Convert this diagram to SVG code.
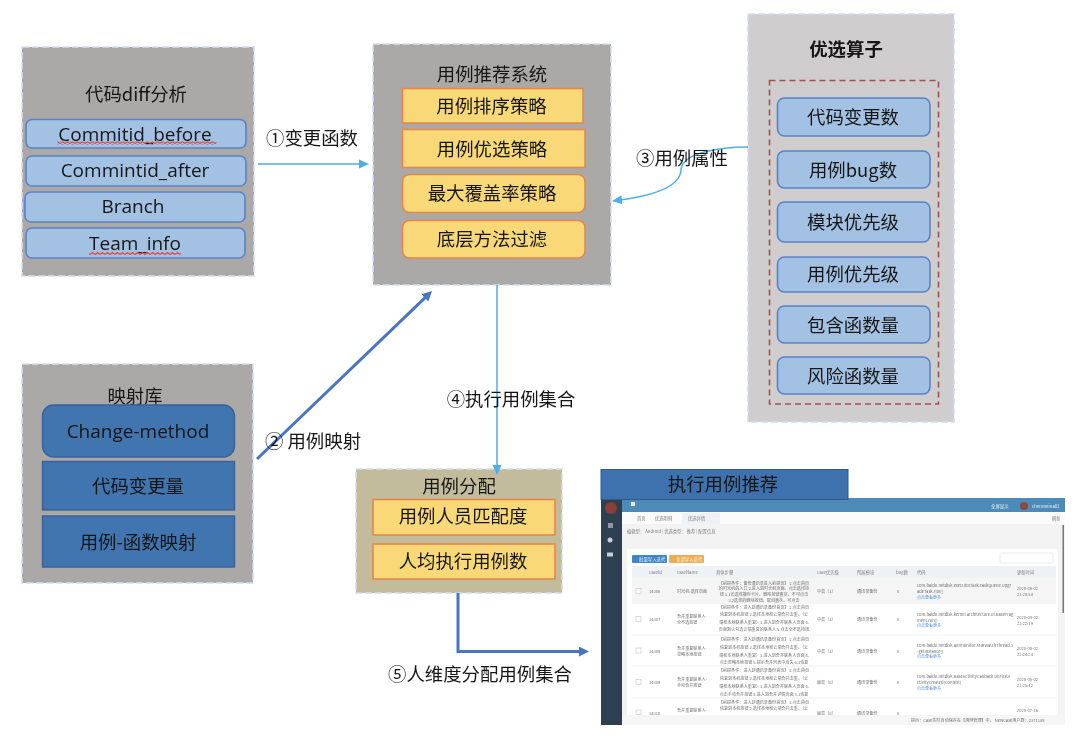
<svg xmlns="http://www.w3.org/2000/svg" width="1080" height="738" viewBox="0 0 1080 738">
<style>
text{font-family:"Noto Sans CJK SC","Noto Sans",sans-serif;fill:#161616;text-anchor:middle;dominant-baseline:central}
.t{font-size:18.4px}
.b{font-weight:700}
.lat{font-family:"Open Sans","Noto Sans CJK SC",sans-serif;font-size:19px}
.panel{stroke:#d3deef;stroke-width:1.5;stroke-dasharray:7 3}
.gray{fill:#aba9a8}
.light{fill:#cfcdce}
.khaki{fill:#c2bc9c}
.blue{fill:#a3c2e3;stroke:#5b82c8;stroke-width:1.6}
.yellow{fill:#f9d877;stroke:#e6874a;stroke-width:1.6}
.dark{fill:#4174b0;stroke:#38609a;stroke-width:1.4}
.thin{fill:none;stroke:#4eaeea;stroke-width:1.5}
.thick{fill:none;stroke:#4a75c4;stroke-width:3}
.s{font-size:4.1px;fill:#707070}
.sl{font-size:4.1px;fill:#707070;text-anchor:start}
.h{font-size:4.3px;fill:#808080;text-anchor:start}
.lnk{font-size:4px;fill:#4a90e2;text-anchor:start}
.w{font-size:4.4px;fill:#e8f0f6;text-anchor:start}
.sep{stroke:#eeeeee;stroke-width:1}
.chk{fill:#fff;stroke:#cccccc;stroke-width:.7}
</style>
<defs>
<filter id="soft" filterUnits="userSpaceOnUse" x="0" y="0" width="1080" height="738"><feGaussianBlur stdDeviation="0.45"/></filter>
<filter id="blurshot" filterUnits="userSpaceOnUse" x="595" y="495" width="480" height="235"><feGaussianBlur stdDeviation="0.4"/></filter>
<marker id="aThin" markerUnits="userSpaceOnUse" markerWidth="12" markerHeight="12" refX="2" refY="5" orient="auto"><path d="M0,.5L10,5L0,9.500Z" fill="#4eaeea"/></marker>
<marker id="aThick" markerUnits="userSpaceOnUse" markerWidth="12" markerHeight="12" refX="3" refY="5" orient="auto"><path d="M0,0L10,5L0,10Z" fill="#4a75c4"/></marker>
<pattern id="wavy" patternUnits="userSpaceOnUse" width="5" height="3"><path d="M0,2.4L2.5,.6L5,2.4" fill="none" stroke="#e8403a" stroke-width="1.2"/></pattern>
<clipPath id="shotClip"><rect x="601" y="498" width="464" height="227"/></clipPath>
</defs>
<g filter="url(#soft)">
<g id="node-diff">
<rect class="panel gray" x="22" y="47" width="232" height="229"/>
<text class="t" x="136" y="93">代码diff分析</text>
<rect class="blue" x="26" y="119.500" width="220" height="28.500" rx="6"/>
<text class="lat" x="135" y="133.500">Commitid_before</text>
<rect x="57.500" y="141.500" width="159" height="3" fill="url(#wavy)"/>
<rect class="blue" x="26" y="156" width="220" height="30" rx="6"/>
<text class="lat" x="135" y="169.500">Commintid_after</text>
<rect class="blue" x="25" y="192" width="220" height="30" rx="6"/>
<text class="lat" x="133" y="205.500">Branch</text>
<rect class="blue" x="26" y="228" width="219" height="30" rx="6"/>
<text class="lat" x="135" y="242.500">Team_info</text>
<rect x="89" y="252" width="92" height="3" fill="url(#wavy)"/>
</g>
<g id="node-recommend">
<rect class="panel gray" x="373" y="44" width="238" height="241"/>
<text class="t" x="492" y="73">用例推荐系统</text>
<rect class="yellow" x="402.500" y="88.500" width="180.500" height="34.500"/>
<text class="t" x="491.500" y="105">用例排序策略</text>
<rect class="yellow" x="402.500" y="129.500" width="182.500" height="38"/>
<text class="t" x="492" y="148">用例优选策略</text>
<rect class="yellow" x="402.500" y="174.500" width="182.500" height="38" rx="7"/>
<text class="t" x="492" y="192">最大覆盖率策略</text>
<rect class="yellow" x="402.500" y="220.500" width="182.500" height="37.500" rx="7"/>
<text class="t" x="492" y="238">底层方法过滤</text>
</g>
<g id="node-factors">
<rect class="panel light" x="748" y="14" width="206" height="408"/>
<text class="t b" x="846" y="48">优选算子</text>
<rect x="769.500" y="80.500" width="169" height="323.500" fill="none" stroke="#a5504f" stroke-width="1.6" stroke-dasharray="6 4"/>
<rect class="blue" x="777.500" y="98" width="152.500" height="38" rx="7"/>
<text class="t" x="853" y="116">代码变更数</text>
<rect class="blue" x="777.500" y="151" width="152.500" height="37" rx="7"/>
<text class="t" x="853" y="169">用例bug数</text>
<rect class="blue" x="777.500" y="202" width="152.500" height="40" rx="7"/>
<text class="t" x="853" y="221">模块优先级</text>
<rect class="blue" x="777.500" y="257" width="152.500" height="35" rx="7"/>
<text class="t" x="853" y="273">用例优先级</text>
<rect class="blue" x="777.500" y="306" width="152.500" height="37" rx="7"/>
<text class="t" x="853" y="324">包含函数量</text>
<rect class="blue" x="777.500" y="357" width="152.500" height="37" rx="7"/>
<text class="t" x="853" y="375">风险函数量</text>
</g>
<g id="node-mapping">
<rect class="panel gray" x="22" y="364" width="231" height="219"/>
<text class="t" x="135" y="395">映射库</text>
<rect class="dark" x="42.500" y="405" width="192" height="52" rx="11"/>
<text class="lat" x="138" y="430.500">Change-method</text>
<rect class="dark" x="42.500" y="461.500" width="192" height="48.500"/>
<text class="t" x="138" y="485">代码变更量</text>
<rect class="dark" x="42.500" y="516" width="192" height="51"/>
<text class="t" x="138" y="541">用例-函数映射</text>
</g>
<g id="node-assign">
<rect class="panel khaki" x="356" y="469" width="206" height="124"/>
<text class="t" x="459" y="485">用例分配</text>
<rect class="yellow" x="373" y="499.500" width="182" height="35.500"/>
<text class="t" x="463" y="515">用例人员匹配度</text>
<rect class="yellow" x="373" y="544" width="182" height="35"/>
<text class="t" x="463" y="560">人均执行用例数</text>
</g>
<g id="connectors">
<path class="thin" d="M258,164H361" marker-end="url(#aThin)"/>
<path class="thick" d="M257,459L427,295.800" marker-end="url(#aThick)"/>
<path class="thin" d="M748,147C722,147 682,152 681,170C680,188 650,196 620,200" marker-end="url(#aThin)"/>
<path class="thin" d="M497,285V467" marker-end="url(#aThin)"/>
<path class="thick" d="M458,593V651.500H582" marker-end="url(#aThick)"/>
</g>
<g id="labels">
<text class="t" x="312" y="137">①变更函数</text>
<text class="t" x="313" y="440">② 用例映射</text>
<text class="t" x="682" y="157">③用例属性</text>
<text class="t" x="511" y="398">④执行用例集合</text>
<text class="t" x="480" y="673">⑤人维度分配用例集合</text>
</g>
<g id="node-result">
<g filter="url(#blurshot)" clip-path="url(#shotClip)">
<rect x="601" y="498" width="464" height="227" fill="#f3f3f3"/>
<rect x="601" y="498" width="21" height="227" fill="#2f3f4f"/>
<circle cx="611" cy="508" r="6" fill="#8a3f38"/>
<rect x="608" y="523" width="5" height="5" fill="#8c98a4"/>
<circle cx="610" cy="540" r="2.500" fill="#c6ced6"/>
<rect x="607" y="552.500" width="6" height="4" fill="#c6ced6"/>
<rect x="622" y="498" width="443" height="14" fill="#4d8ab8"/>
<rect x="631" y="502" width="4" height="4" fill="#e8f0f6"/>
<text class="w" x="991" y="506">全屏显示</text>
<circle cx="1024" cy="506" r="4" fill="#8a4a40"/>
<text class="w" x="1032" y="506">chenmeina01</text>
<rect x="622" y="512" width="443" height="12" fill="#fbfbfb"/>
<rect x="682" y="513" width="38" height="11" fill="#eef2f6"/>
<text class="h" x="637" y="518">首页</text>
<text class="h" x="655" y="518">优选用例</text>
<text class="h" x="688" y="518">优选详情</text>
<text class="h" x="1052" y="518">刷新</text>
<text class="h" x="627" y="531">编辑型： Android | 优选类型： 推荐 | 配置信息</text>
<rect x="627" y="549" width="431" height="180" fill="#fff"/>
<rect x="632" y="555" width="35" height="8" rx="1" fill="#3d85c6"/>
<text class="w" x="639" y="559">批量导入迭代</text>
<rect x="669" y="555" width="35" height="8" rx="1" fill="#f0ad4e"/>
<text class="w" x="676" y="559">全部导入迭代</text>
<rect x="1000" y="553" width="53" height="10" rx="1" fill="#fff" stroke="#e3e3e3" stroke-width=".7"/>
<rect x="632" y="566" width="424" height="12" fill="#eef2f7"/>
<text class="h" x="649" y="572">caseId</text>
<text class="h" x="677" y="572">caseName</text>
<text class="h" x="716" y="572">具体步骤</text>
<text class="h" x="817" y="572">case优先级</text>
<text class="h" x="857" y="572">所属模块</text>
<text class="h" x="896" y="572">bug数</text>
<text class="h" x="917" y="572">代码</text>
<text class="h" x="1017" y="572">更新时间</text>
<rect x="632" y="578" width="424" height="26" fill="#f5f5f5"/>
<path class="sep" d="M632,635H1056M632,666H1056M632,698H1056"/>
<g>
<rect class="chk" x="636" y="588.500" width="5" height="5"/>
<text class="sl" x="649" y="591">14306</text>
<text class="sl" x="677" y="591">时光机-选择页面</text>
<text class="s" x="764" y="582.500">【前提条件：备份通讯录进入前提页】 1.点击首页</text>
<text class="s" x="764" y="588">的时光机的入口 2.进入到时光机页面。点击选择按</text>
<text class="s" x="764" y="593.500">钮 3.1长选择撤你卡片。删除按钮置灰。不可点击</text>
<text class="s" x="764" y="600">3.2选择的删除按钮。取消置灰。可点击</text>
<text class="sl" x="817" y="591">中高（1）</text>
<text class="sl" x="857" y="591">通讯录备份</text>
<text class="sl" x="897" y="591">0</text>
<text class="sl" x="917" y="585">com.baidu.netdisk.executor.task.TaskQueue.Upgr</text>
<text class="sl" x="917" y="590.500">adeTask.run()</text>
<text class="lnk" x="917" y="596.500">点击查看更多</text>
<text class="sl" x="1017" y="588">2020-08-02</text>
<text class="sl" x="1017" y="594">22:20:54</text>
</g>
<g>
<rect class="chk" x="636" y="616.500" width="5" height="5"/>
<text class="sl" x="649" y="619">14307</text>
<text class="sl" x="677" y="616">合并重复联系人-</text>
<text class="sl" x="677" y="622">全不选按钮</text>
<text class="s" x="764" y="607">【前提条件：进入到通讯录备份首页】 1.点击首页</text>
<text class="s" x="764" y="614">恢复到本机按钮 2.选择本地和云端合并去重。（云</text>
<text class="s" x="764" y="622">端和本地联系人重复）3.进入到合并联系人页面 4.</text>
<text class="s" x="764" y="629">页面默认勾选云端重复的联系人 5.点击全不选按钮</text>
<text class="sl" x="817" y="619">中高（1）</text>
<text class="sl" x="857" y="619">通讯录备份</text>
<text class="sl" x="897" y="619">0</text>
<text class="sl" x="917" y="614">com.baidu.netdisk.kernel.architecture.ui.BaseFrag</text>
<text class="sl" x="917" y="619.500">ment.run()</text>
<text class="lnk" x="917" y="625">点击查看更多</text>
<text class="sl" x="1017" y="617">2020-08-02</text>
<text class="sl" x="1017" y="623">22:22:19</text>
</g>
<g>
<rect class="chk" x="636" y="648" width="5" height="5"/>
<text class="sl" x="649" y="651">14308</text>
<text class="sl" x="677" y="648">合并重复联系人-</text>
<text class="sl" x="677" y="654">忽略本地按钮</text>
<text class="s" x="764" y="639">【前提条件：进入到通讯录备份首页】 1.点击首页</text>
<text class="s" x="764" y="647">恢复到本机按钮 2.选择本地和云端合并去重。（云</text>
<text class="s" x="764" y="655">端和本地联系人重复）3.进入到合并联系人页面 4.</text>
<text class="s" x="764" y="662">点击忽略本地按钮 5.提示合并列表中消失 6.1恢复</text>
<text class="sl" x="817" y="651">中高（1）</text>
<text class="sl" x="857" y="651">通讯录备份</text>
<text class="sl" x="897" y="651">0</text>
<text class="sl" x="917" y="645">com.baidu.netdisk.anrmonitor.ANRWatchThread.3</text>
<text class="sl" x="917" y="651">-getInstance()</text>
<text class="lnk" x="917" y="656">点击查看更多</text>
<text class="sl" x="1017" y="648">2020-08-02</text>
<text class="sl" x="1017" y="654">22:24:24</text>
</g>
<g>
<rect class="chk" x="636" y="679.500" width="5" height="5"/>
<text class="sl" x="649" y="682">14309</text>
<text class="sl" x="677" y="679">合并重复联系人-</text>
<text class="sl" x="677" y="685">手动合并按钮</text>
<text class="s" x="764" y="670">【前提条件：进入到通讯录备份首页】 1.点击首页</text>
<text class="s" x="764" y="678">恢复到本机按钮 2.选择本地和云端合并去重。（云</text>
<text class="s" x="764" y="686">端和本地联系人重复）3.进入到合并联系人页面 4.</text>
<text class="s" x="764" y="694">点击手动合并按钮 5.进入到合并详情页面 5.1恢复</text>
<text class="sl" x="817" y="682">最高（0）</text>
<text class="sl" x="857" y="682">通讯录备份</text>
<text class="sl" x="897" y="682">0</text>
<text class="sl" x="917" y="676">com.baidu.netdisk.BaseActivityCallback.onFirstA</text>
<text class="sl" x="917" y="682">ctivityCreated(Context)</text>
<text class="lnk" x="917" y="687.500">点击查看更多</text>
<text class="sl" x="1017" y="679">2020-08-02</text>
<text class="sl" x="1017" y="685">22:25:42</text>
</g>
<g>
<rect class="chk" x="636" y="710" width="5" height="4.500"/>
<text class="sl" x="649" y="712.500">14310</text>
<text class="sl" x="677" y="710">合并重复联系人-</text>
<text class="s" x="764" y="702">【前提条件：进入到通讯录备份首页】 1.点击首页</text>
<text class="s" x="764" y="708">恢复到本机按钮 2.选择本地和云端合并去重。（云</text>
<text class="sl" x="817" y="712.500">最高（0）</text>
<text class="sl" x="857" y="712.500">通讯录备份</text>
<text class="sl" x="897" y="712.500">0</text>
<text class="sl" x="1017" y="710">2020-07-16</text>
</g>
<rect x="1062.500" y="525" width="1.500" height="88" fill="#777"/>
<rect x="622" y="715" width="443" height="10" fill="#f6f6f6"/>
<text class="sl" x="911" y="719.500">提示：Case实时自动保存在【用例管理】中。 NewCase用户群：2371188</text>
</g>
<rect x="601" y="469.500" width="247" height="30" fill="#3d72ae" stroke="#30588c" stroke-width="1"/>
<text class="t" x="723" y="482.500">执行用例推荐</text>
</g>
</g>
</svg>
